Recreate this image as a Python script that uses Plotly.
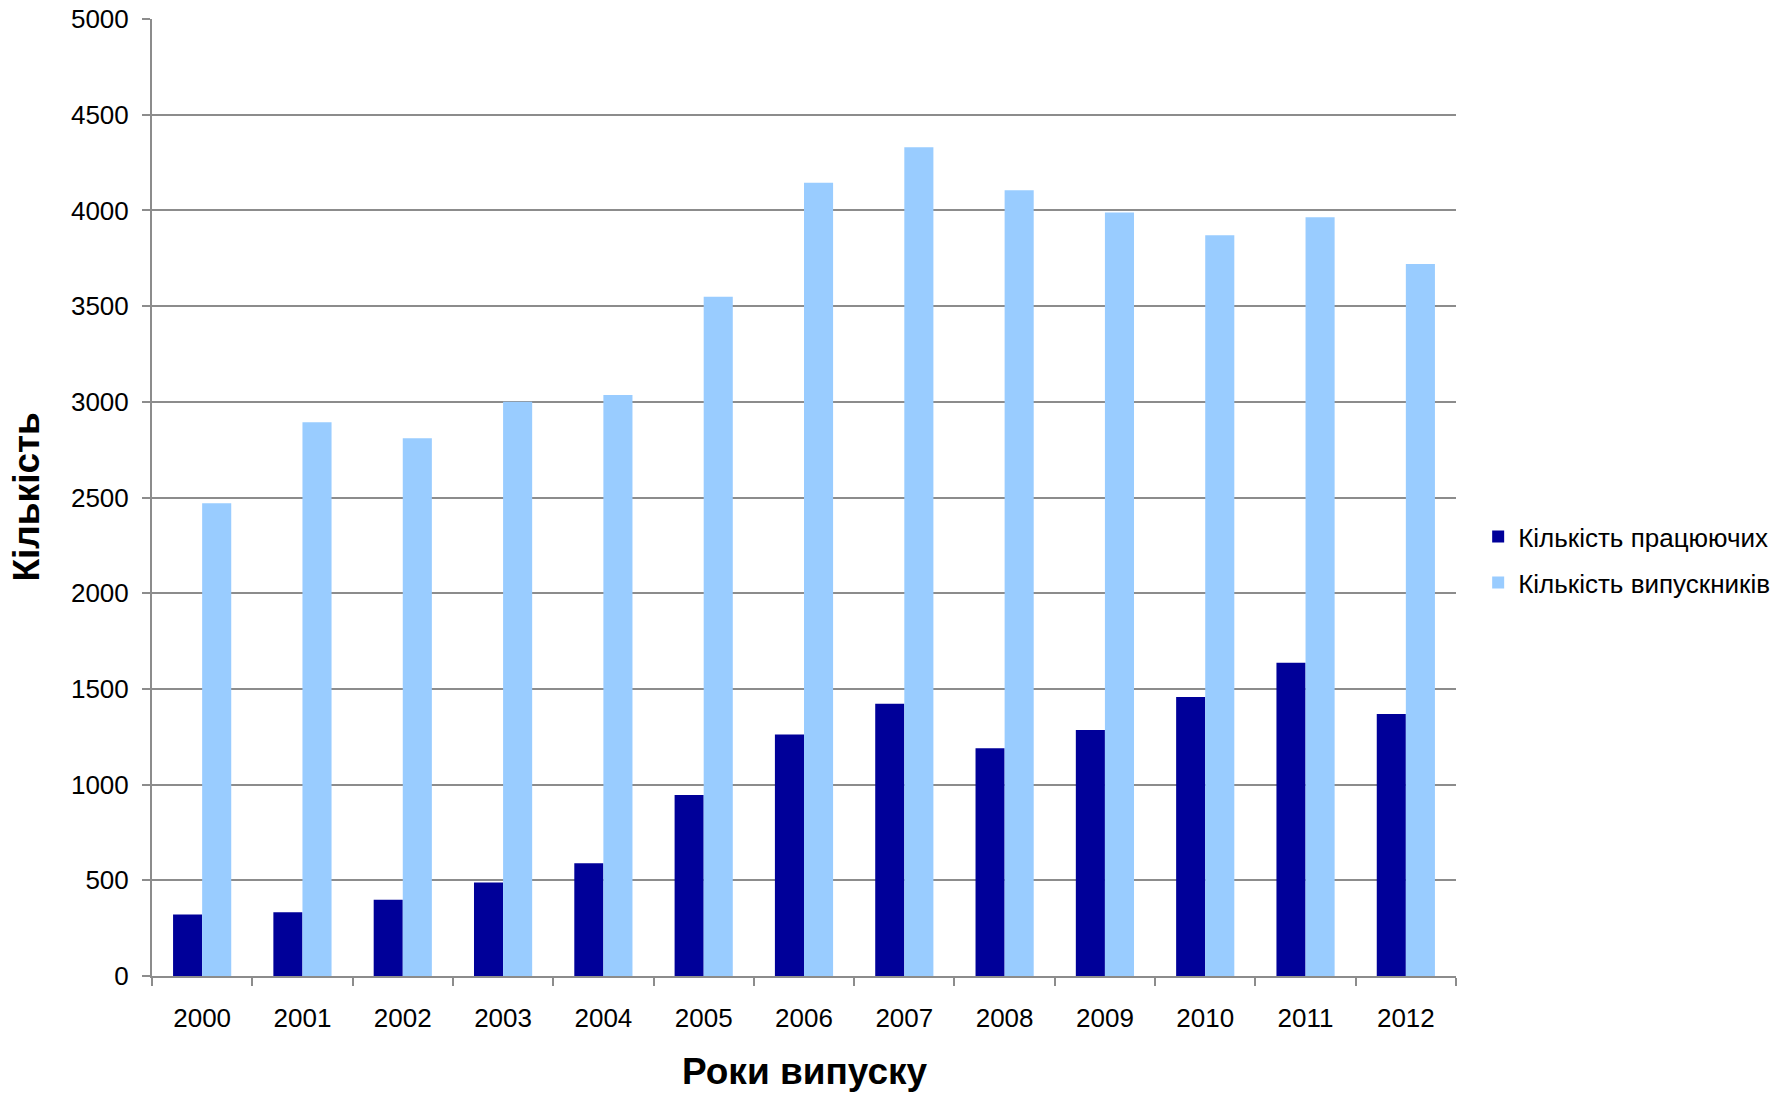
import plotly.graph_objects as go

years = ["2000", "2001", "2002", "2003", "2004", "2005", "2006",
         "2007", "2008", "2009", "2010", "2011", "2012"]
working = [321, 333, 399, 488, 589, 946, 1262, 1423, 1190, 1286, 1458, 1637, 1369]
graduates = [2470, 2893, 2810, 3000, 3036, 3549, 4145, 4331, 4106, 3990, 3870, 3964, 3720]

series_names = ["Кількість працюючих", "Кількість випускників"]
colors = ["#000099", "#99CCFF"]
x_title = "Роки випуску"
y_title = "Кількість"

FONT = "Liberation Sans, Arial, sans-serif"

fig = go.Figure()
fig.add_trace(go.Bar(x=years, y=working, name=series_names[0],
                     marker=dict(color=colors[0], line=dict(width=0)),
                     legendgroup="a"))
fig.add_trace(go.Bar(x=years, y=graduates, name=series_names[1],
                     marker=dict(color=colors[1], line=dict(width=0)),
                     legendgroup="b"))

fig.add_annotation(text="<b>" + x_title + "</b>", xref="paper", yref="paper",
                   x=0.5, y=0, xanchor="center", yanchor="middle", yshift=-95,
                   showarrow=False, font=dict(size=37, family=FONT, color="#000000"))
fig.add_annotation(text="<b>" + y_title + "</b>", xref="paper", yref="paper",
                   x=0, y=0.5, xanchor="center", yanchor="middle", xshift=-126,
                   textangle=-90, showarrow=False,
                   font=dict(size=37, family=FONT, color="#000000"))

fig.update_layout(
    width=1786, height=1094,
    margin=dict(l=152, r=330, t=19, b=118, pad=0, autoexpand=False),
    paper_bgcolor="white", plot_bgcolor="white",
    barmode="group", bargap=0.42, bargroupgap=0,
    font=dict(family=FONT, color="#000000", size=26),
    legend=dict(x=1.017, y=0.435, xanchor="left", yanchor="middle",
                font=dict(size=26, family=FONT), traceorder="grouped",
                tracegroupgap=9, bgcolor="rgba(0,0,0,0)"),
    xaxis=dict(
        type="category", automargin=False,
        showline=True, linecolor="#8c8c8c", linewidth=2,
        ticks="outside", tickson="boundaries", ticklen=8, tickwidth=2,
        tickcolor="#8c8c8c", showgrid=False,
        tickfont=dict(size=26), ticklabelstandoff=18,
    ),
    yaxis=dict(
        range=[0, 5000.5], dtick=500, tick0=0, automargin=False,
        showline=True, linecolor="#8c8c8c", linewidth=2,
        ticks="outside", ticklen=8, tickwidth=2, tickcolor="#8c8c8c",
        showgrid=True, gridcolor="#8c8c8c", gridwidth=2,
        zeroline=False, ticklabeloverflow="allow",
        tickfont=dict(size=26), ticklabelstandoff=8,
    ),
)

fig.write_html("out.html", config={"displayModeBar": False},
               post_script="document.body.style.margin='0';document.body.style.overflow='hidden';")
